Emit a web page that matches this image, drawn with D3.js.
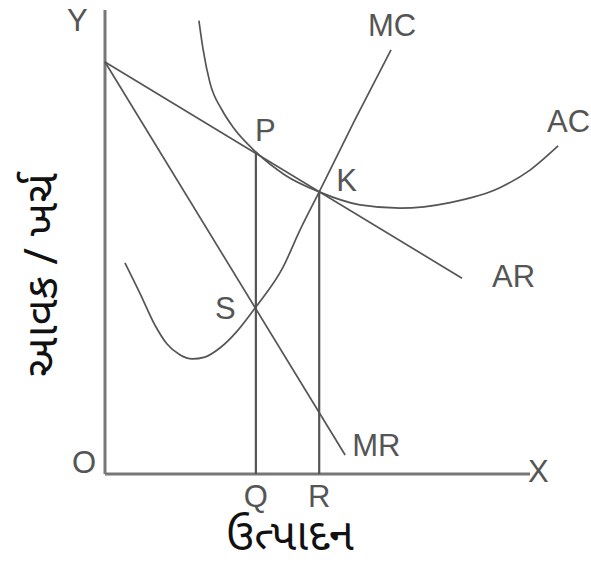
<!DOCTYPE html>
<html>
<head>
<meta charset="utf-8">
<script src="https://cdn.jsdelivr.net/npm/d3@7"></script>
<style>
  html, body { margin: 0; padding: 0; background: #fff; }
  svg { display: block; }
</style>
</head>
<body>
<svg id="chart" width="591" height="563"></svg>
<script>
// Output on the horizontal axis, revenue / cost on the vertical axis (chart units)
const arLine = [[0, 8.88], [8.4, 4.22]];
const mrLine = [[0, 8.88], [5.65, 0.41]];
const mcCurve = [[0.47, 4.55], [0.82, 3.90], [1.18, 3.20], [1.46, 2.80], [1.76, 2.57],
                 [2.05, 2.48], [2.35, 2.52], [2.71, 2.72], [3.11, 3.08], [3.55, 3.60],
                 [4.19, 4.46], [4.59, 5.26], [5.04, 6.08], [5.88, 7.63], [6.73, 9.14]];
const acCurve = [[2.21, 9.77], [2.31, 9.14], [2.47, 8.43], [2.75, 7.85], [3.01, 7.48],
                 [3.55, 6.94], [4.24, 6.44], [5.04, 6.08], [6.0, 5.80], [6.94, 5.73],
                 [8.12, 5.85], [9.29, 6.17], [10.0, 6.55], [10.66, 7.07]];
const pointP = [3.55, 6.94];
const pointK = [5.04, 6.08];
const pointS = [3.55, 3.60];
const xTicks = [{label: "Q", x: 3.55}, {label: "R", x: 5.04}];

const svg = d3.select("#chart");
const x = d3.scaleLinear().domain([0, 10]).range([105, 530]);
const y = d3.scaleLinear().domain([0, 10]).range([474, 10]);

const line = d3.line().x(d => x(d[0])).y(d => y(d[1]));
const smooth = d3.line().x(d => x(d[0])).y(d => y(d[1])).curve(d3.curveMonotoneX);

const ink = "#555";
const labelFont = "Liberation Sans, Arial, sans-serif";
const gujFont = "Noto Sans Gujarati, Noto Sans, sans-serif";

// axes
svg.append("line").attr("x1", x(0)).attr("y1", y(0)).attr("x2", x(0)).attr("y2", y(10))
  .attr("stroke", "#777").attr("stroke-width", 3);
svg.append("line").attr("x1", x(0)).attr("y1", y(0)).attr("x2", x(10)).attr("y2", y(0))
  .attr("stroke", "#777").attr("stroke-width", 3);

// vertical guides from P and K down to the output axis
[pointP, pointK].forEach(p => {
  svg.append("line").attr("x1", x(p[0])).attr("y1", y(p[1]))
    .attr("x2", x(p[0])).attr("y2", y(0))
    .attr("stroke", "#555").attr("stroke-width", 2.2);
});

// revenue lines and cost curves
[arLine, mrLine].forEach(d => {
  svg.append("path").attr("d", line(d)).attr("fill", "none")
    .attr("stroke", ink).attr("stroke-width", 1.7);
});
[mcCurve, acCurve].forEach(d => {
  svg.append("path").attr("d", smooth(d)).attr("fill", "none")
    .attr("stroke", ink).attr("stroke-width", 1.7);
});

// letter labels (left edge, baseline)
const mcEnd = mcCurve[mcCurve.length - 1];
const acEnd = acCurve[acCurve.length - 1];
const labels = [
  {t: "Y", px: x(0) - 38, py: y(10) + 21},
  {t: "O", px: x(0) - 33, py: y(0) - 1},
  {t: "X", px: x(10) - 2, py: y(0) + 8},
  {t: "MC", px: x(mcEnd[0]) - 23, py: y(mcEnd[1]) - 14},
  {t: "AC", px: x(acEnd[0]) - 11, py: y(acEnd[1]) - 14},
  {t: "AR", px: x(arLine[1][0]) + 30, py: y(arLine[1][1]) + 9},
  {t: "MR", px: x(mrLine[1][0]) + 7, py: y(mrLine[1][1]) + 1},
  {t: "P", px: x(pointP[0]) - 1, py: y(pointP[1]) - 11},
  {t: "K", px: x(pointK[0]) + 17, py: y(pointK[1]) - 1},
  {t: "S", px: x(pointS[0]) - 41, py: y(pointS[1]) + 12}
];
svg.selectAll("text.lbl").data(labels).join("text").attr("class", "lbl")
  .attr("x", d => d.px).attr("y", d => d.py)
  .attr("font-family", labelFont).attr("font-size", 31).attr("fill", ink)
  .text(d => d.t);

svg.selectAll("text.tick").data(xTicks).join("text").attr("class", "tick")
  .attr("x", d => x(d.x)).attr("y", y(0) + 33)
  .attr("text-anchor", "middle")
  .attr("font-family", labelFont).attr("font-size", 31).attr("fill", ink)
  .text(d => d.label);

// axis titles
svg.append("text").attr("x", 290).attr("y", 550).attr("text-anchor", "middle")
  .attr("font-family", gujFont)
  .attr("font-size", 45).attr("fill", "#111")
  .text("ઉત્પાદન");
svg.append("text").attr("transform", "translate(57,275) rotate(-90)")
  .attr("text-anchor", "middle")
  .attr("font-family", gujFont)
  .attr("font-size", 45).attr("fill", "#111")
  .text("આવક / ખર્ચ");
</script>
</body>
</html>
